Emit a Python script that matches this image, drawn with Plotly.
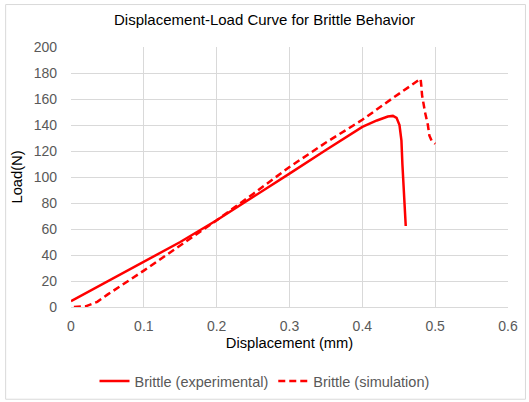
import plotly.graph_objects as go

# Experimental curve (displacement mm, load N)
exp_disp = [0.0, 0.05, 0.1, 0.15, 0.2, 0.25, 0.3, 0.35, 0.4, 0.42, 0.435, 0.442, 0.447, 0.451,
            0.4537, 0.455, 0.456, 0.458, 0.4596]
exp_load = [4.5, 19.5, 34.5, 50.0, 66.7, 84.5, 102.6, 120.8, 138.5, 143.5, 146.5, 147.0, 145.5, 140.0,
            128.0, 110.0, 97.5, 82.0, 62.3]

# Simulation curve
sim_disp = [0.004, 0.02, 0.036, 0.05, 0.1, 0.15, 0.2, 0.25, 0.3, 0.35, 0.4, 0.44, 0.48,
            0.481, 0.482, 0.486, 0.49, 0.492, 0.495, 0.5]
sim_load = [0.0, 0.5, 4.0, 9.5, 28.0, 47.5, 66.7, 87.0, 107.7, 126.5, 144.0, 160.0, 175.5,
            170.0, 163.0, 150.0, 140.0, 132.0, 128.0, 125.5]

x_ticks = [0, 0.1, 0.2, 0.3, 0.4, 0.5, 0.6]
x_labels = ["0", "0.1", "0.2", "0.3", "0.4", "0.5", "0.6"]

fig = go.Figure()
fig.add_trace(go.Scatter(x=exp_disp, y=exp_load, mode="lines", name="Brittle (experimental)",
                         line=dict(color="#FF0000", width=2.5)))
fig.add_trace(go.Scatter(x=sim_disp, y=sim_load, mode="lines", name="Brittle (simulation)",
                         line=dict(color="#FF0000", width=2.5, dash="7px,4px")))

grid = "#D9D9D9"
fig.update_layout(
    width=529, height=402,
    margin=dict(l=70.5, r=20.5, t=46.5, b=95.3),
    paper_bgcolor="white", plot_bgcolor="white",
    font=dict(family="Liberation Sans, Arial", size=14, color="#595959"),
    title=dict(text="Displacement-Load Curve for Brittle Behavior", x=0.5, xref="container",
               xanchor="center", y=1 - 20 / 402, yanchor="middle",
               font=dict(size=15, color="#000000")),
    xaxis=dict(range=[0, 0.6], tickvals=x_ticks, ticktext=x_labels, showgrid=True,
               gridcolor=grid, gridwidth=1, zeroline=False, showline=True, linecolor=grid,
               linewidth=1, ticks="", ticklabelstandoff=6,
               title=dict(text="Displacement (mm)", standoff=4, font=dict(size=14.7, color="#000000"))),
    yaxis=dict(range=[0, 200], dtick=20, showgrid=True, gridcolor=grid, gridwidth=1,
               zeroline=False, showline=False, ticks="", ticklabelstandoff=13,
               title=dict(text="Load(N)", standoff=7, font=dict(size=14.7, color="#000000"))),
    legend=dict(orientation="h", x=0.5, xref="container", xanchor="center",
                y=(402 - 381) / 402, yref="container", yanchor="middle",
                font=dict(size=14.5, color="#595959"), itemwidth=30),
    showlegend=True,
)

# light border around the chart
fig.add_shape(type="rect", xref="paper", yref="paper",
              x0=(5 - 70.5) / 438, x1=(526 - 70.5) / 438,
              y0=(306.7 - 399) / 260.2, y1=(306.7 - 4) / 260.2,
              line=dict(color="#D9D9D9", width=1), layer="below")

fig.write_html("out.html", config={"displayModeBar": False},
               post_script="document.body.style.margin='0';")
